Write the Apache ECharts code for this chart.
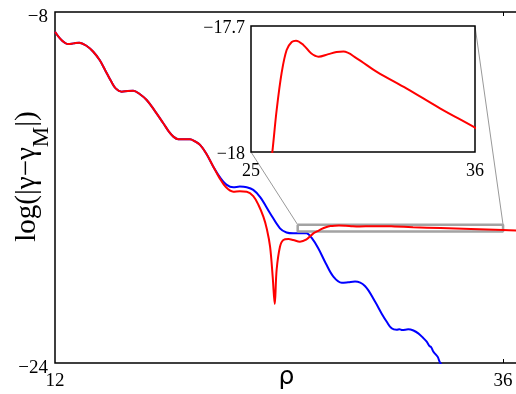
<!DOCTYPE html>
<html>
<head>
<meta charset="utf-8">
<script src="https://cdn.jsdelivr.net/npm/echarts@6/dist/echarts.min.js"></script>
<style>
  html, body { margin: 0; padding: 0; background: #fff; }
  #chart { width: 516px; height: 394px; }
</style>
</head>
<body>
<div id="chart"></div>
<script>
// curve shared by both series before they split (rho, log value)
const sharedPart = [
    [12.0, -8.90], [12.35, -9.28], [12.71, -9.46], [13.0, -9.43], [13.3, -9.40],
    [13.7, -9.55], [14.05, -9.81], [14.4, -10.20], [14.68, -10.64], [15.0, -11.15],
    [15.25, -11.48], [15.57, -11.63], [15.9, -11.60], [16.19, -11.59], [16.55, -11.75],
    [16.91, -12.01], [17.3, -12.45], [17.8, -13.07], [18.1, -13.45], [18.34, -13.68],
    [18.6, -13.80], [18.9, -13.80], [19.23, -13.80], [19.5, -13.90], [19.77, -14.06],
    [20.1, -14.45], [20.48, -15.05]
];
const blueTail = [
    [20.85, -15.55], [21.2, -15.88], [21.55, -15.99], [21.9, -15.96], [22.27, -15.99],
    [22.62, -16.11], [23.0, -16.45], [23.52, -17.17], [24.05, -17.86], [24.4, -18.05],
    [24.76, -18.09], [25.1, -18.08], [25.48, -18.09], [25.75, -18.30], [26.1, -18.77],
    [26.5, -19.45], [26.91, -20.06], [27.36, -20.34], [27.7, -20.32], [28.07, -20.29],
    [28.6, -20.49], [29.14, -21.20], [29.5, -21.75], [29.77, -22.12], [30.03, -22.42],
    [30.3, -22.49], [30.45, -22.46], [30.6, -22.50], [30.92, -22.46], [31.2, -22.52],
    [31.46, -22.65], [31.7, -22.84], [31.91, -23.03], [32.05, -23.22], [32.15, -23.28],
    [32.26, -23.48], [32.4, -23.62], [32.5, -23.72], [32.62, -23.98], [32.7, -24.05]
];
const redTail = [
    [20.8, -15.55], [21.15, -15.98], [21.55, -16.19], [21.9, -16.17], [22.27, -16.19],
    [22.62, -16.39], [22.9, -16.80], [23.16, -17.33], [23.35, -17.90], [23.52, -18.70],
    [23.66, -20.06], [23.77, -21.31], [23.87, -19.76], [24.05, -18.70], [24.23, -18.39],
    [24.5, -18.35], [24.76, -18.39], [25.12, -18.47], [25.45, -18.38], [25.84, -18.09],
    [26.07, -17.99], [26.26, -17.90], [26.51, -17.81], [26.75, -17.757], [27.0, -17.738],
    [27.21, -17.735], [27.57, -17.745], [27.95, -17.765], [28.31, -17.773], [28.8, -17.767],
    [29.2, -17.762], [29.54, -17.761], [30.19, -17.777], [31.18, -17.809], [32.65, -17.849],
    [34.28, -17.896], [36.0, -17.942], [36.8, -17.965]
];
// zoom window shown in the inset
const zoomX = [25, 36];
const zoomY = [-18, -17.7];
const mainXTicks = [12, 36];
const mainYTicks = [-24, -8];

const blueData = sharedPart.concat(blueTail);
const redData = sharedPart.concat(redTail);
const zoomBox = [
    [zoomX[0], zoomY[1]], [zoomX[1], zoomY[1]], [zoomX[1], zoomY[0]],
    [zoomX[0], zoomY[0]], [zoomX[0], zoomY[1]]
];

const serif = 'Liberation Serif';
// proper minus sign, wrapped so the label can sit a bit below its tick
const minus = v => '{t|' + (v < 0 ? '\u2212' : '') + Math.abs(v) + '}';

const chart = echarts.init(document.getElementById('chart'));
chart.setOption({
    animation: false,
    backgroundColor: '#fff',
    grid: [
        // main plot, right edge runs off the picture
        { left: 55, top: 12, right: -2, bottom: 31, show: true, borderColor: '#000', borderWidth: 1.5, outerBoundsMode: 'none', containLabel: false },
        // inset
        { left: 251, top: 26, width: 224, height: 126, show: true, borderColor: '#000', borderWidth: 1.5, backgroundColor: '#fff', z: 5, outerBoundsMode: 'none', containLabel: false }
    ],
    xAxis: [
        {
            type: 'value', gridIndex: 0, min: 12, max: 36.8,
            axisLine: { show: false },
            splitLine: { show: false },
            axisTick: { inside: true, length: 4, customValues: [36], lineStyle: { color: '#000' } },
            axisLabel: { customValues: mainXTicks, color: '#000', fontFamily: serif, fontSize: 19, margin: 9 },
            name: 'ρ', nameLocation: 'middle', nameGap: 2, nameMoveOverlap: false,
            nameTextStyle: { fontFamily: 'DejaVu Sans', fontSize: 25, color: '#000' }
        },
        {
            type: 'value', gridIndex: 0, position: 'top', min: 12, max: 36.8,
            axisLine: { show: false },
            splitLine: { show: false },
            axisTick: { inside: true, length: 4, customValues: [36], lineStyle: { color: '#000' } },
            axisLabel: { show: false }
        },
        {
            type: 'value', gridIndex: 1, min: zoomX[0], max: zoomX[1],
            axisLine: { show: false },
            splitLine: { show: false },
            axisTick: { show: false },
            axisLabel: { customValues: zoomX, color: '#000', fontFamily: serif, fontSize: 18, margin: 10 },
            z: 5
        }
    ],
    yAxis: [
        {
            type: 'value', gridIndex: 0, min: -24, max: -8,
            axisLine: { show: false },
            splitLine: { show: false },
            axisTick: { show: false },
            axisLabel: {
                customValues: mainYTicks, formatter: minus, margin: 7,
                rich: { t: { color: '#000', fontFamily: serif, fontSize: 19, padding: [11, 0, 0, 0] } }
            },
            name: 'log(|γ\u2212γ{sub|M}|)', nameLocation: 'middle', nameGap: 13, nameMoveOverlap: false,
            nameTextStyle: {
                fontFamily: serif, fontSize: 29, color: '#000', padding: [0, 0, 0, 22],
                rich: { sub: { fontFamily: serif, fontSize: 23, color: '#000', verticalAlign: 'bottom', padding: [0, 0, -11, 0] } }
            }
        },
        {
            type: 'value', gridIndex: 1, min: zoomY[0], max: zoomY[1],
            axisLine: { show: false },
            splitLine: { show: false },
            axisTick: { show: false },
            axisLabel: {
                customValues: zoomY, formatter: minus, margin: 6,
                rich: { t: { color: '#000', fontFamily: serif, fontSize: 18, padding: [5, 0, 0, 0] } }
            },
            z: 5
        }
    ],
    series: [
        {
            type: 'line', xAxisIndex: 0, yAxisIndex: 0, data: blueData,
            smooth: 0.35, symbol: 'none', lineStyle: { color: '#0000ff', width: 2 }
        },
        {
            type: 'line', xAxisIndex: 0, yAxisIndex: 0, data: zoomBox,
            symbol: 'none', lineStyle: { color: '#a3a3a3', width: 2.5 }
        },
        {
            type: 'line', xAxisIndex: 0, yAxisIndex: 0, data: redData,
            smooth: 0.35, symbol: 'none', lineStyle: { color: '#ff0000', width: 2 }
        },
        {
            type: 'line', xAxisIndex: 2, yAxisIndex: 1, data: redData,
            smooth: 0.35, symbol: 'none', clip: true, z: 6,
            lineStyle: { color: '#ff0000', width: 2 }
        }
    ]
});

// connector lines from the inset corners to the zoom box
const insetBL = chart.convertToPixel({ seriesIndex: 3 }, [zoomX[0], zoomY[0]]);
const insetTR = chart.convertToPixel({ seriesIndex: 3 }, [zoomX[1], zoomY[1]]);
const boxTL = chart.convertToPixel({ seriesIndex: 1 }, [zoomX[0], zoomY[1]]);
const boxTR = chart.convertToPixel({ seriesIndex: 1 }, [zoomX[1], zoomY[1]]);
chart.setOption({
    graphic: [
        { type: 'line', z: 1, shape: { x1: insetBL[0], y1: insetBL[1], x2: boxTL[0], y2: boxTL[1] }, style: { stroke: '#999', lineWidth: 1 } },
        { type: 'line', z: 1, shape: { x1: insetTR[0], y1: insetTR[1], x2: boxTR[0], y2: boxTR[1] }, style: { stroke: '#999', lineWidth: 1 } }
    ]
});
</script>
</body>
</html>
